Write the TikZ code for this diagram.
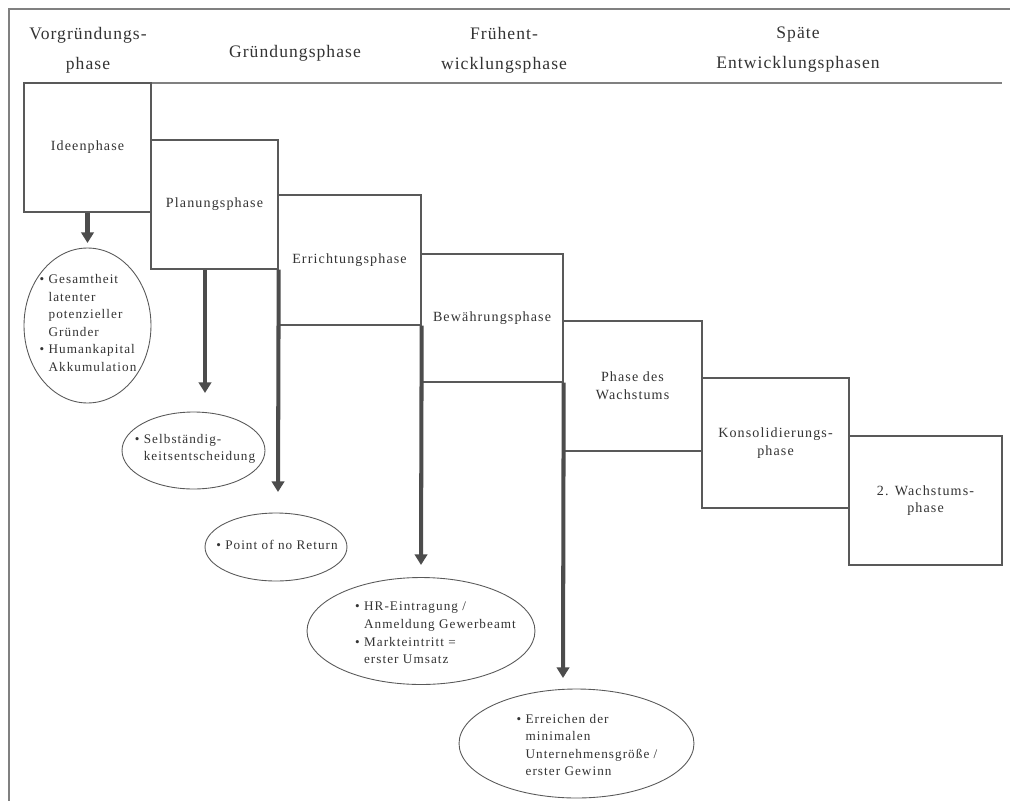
\documentclass[tikz,border=0pt]{standalone}
\usepackage{fontspec}
\setmainfont{Liberation Serif}
\usetikzlibrary{arrows.meta,shapes.geometric}

\definecolor{framegray}{gray}{0.5}
\definecolor{boxgray}{gray}{0.35}
\definecolor{arrowgray}{gray}{0.3}
\definecolor{textgray}{gray}{0.2}
\newcommand{\itm}{\llap{\textbullet\hspace{2.5pt}}}

\begin{document}
\begin{tikzpicture}[x=0.02cm, y=-0.02cm]
  \tikzstyle{head} = [text=textgray, align=center, font={\fontsize{10}{17}\selectfont\addfontfeatures{LetterSpace=6}}]
  \tikzstyle{phase} = [draw=boxgray, line width=0.8pt, rectangle, minimum width=2.54cm, minimum height=2.58cm, text=textgray, align=center, font={\fontsize{8}{10}\selectfont\addfontfeatures{LetterSpace=8}}]
  \tikzstyle{note} = [draw=boxgray, line width=0.5pt, ellipse, inner sep=0pt];
  \tikzstyle{notetext} = [text=textgray, align=left, inner sep=0pt, font={\fontsize{7.5}{10}\selectfont\addfontfeatures{LetterSpace=8}}];
  \tikzstyle{flow} = [draw=arrowgray, line width=2.3pt, -{Triangle[width=7pt,length=6pt]}];

  \useasboundingbox (0,0) rectangle (1010,801);
  \fill[white] (0,0) rectangle (1010,801);

  % frame and header line
  \draw[framegray, line width=1pt] (1010,9) -- (9,9) -- (9,801);
  \draw[framegray, line width=1pt] (24,83) -- (1002,83);

  \node[head] (vorgr) at (88,50) {Vorgründungs-\\phase};
  \node[head] (gruend) at (295,53) {Gründungsphase};
  \node[head] (frueh) at (504,50) {Frühent-\\wicklungsphase};
  \node[head] (spaet) at (798,50) {Späte\\Entwicklungsphasen};

  % phases
  \node[phase] (idee) at (87.5,147.5) {Ideenphase};
  \node[phase] (plan) at (214.5,204.5) {Planungsphase};
  \node[phase, minimum width=2.86cm, minimum height=2.60cm] (erricht) at (349.5,260) {Errichtungsphase};
  \node[phase, minimum width=2.84cm, minimum height=2.56cm] (bewaehr) at (492,318) {Bewährungsphase};
  \node[phase, minimum width=2.78cm, minimum height=2.60cm] (wachs) at (632.5,386) {Phase des\\Wachstums};
  \node[phase, minimum width=2.94cm, minimum height=2.60cm] (konsol) at (775.5,443) {Konsolidierungs-\\phase};
  \node[phase, minimum width=3.06cm] (wachs2) at (925.5,500.5) {2. Wachstums-\\phase};

  % milestones
  \node[note, minimum width=2.54cm, minimum height=3.10cm] (e1) at (87.5,325.5) {};
  \node[notetext] (t1) at (92.5,323) {\itm Gesamtheit\\latenter\\potenzieller\\Gründer\\\itm Humankapital\\Akkumulation};
  \node[note, minimum width=2.86cm, minimum height=1.54cm] (e2) at (193.5,450.5) {};
  \node[notetext] (t2) at (199.5,449) {\itm Selbständig-\\keitsentscheidung};
  \node[note, minimum width=2.84cm, minimum height=1.36cm] (e3) at (276,547) {};
  \node[notetext] (t3) at (281.5,545) {\itm Point of no Return};
  \node[note, minimum width=4.56cm, minimum height=2.14cm] (e4) at (421,631) {};
  \node[notetext] (t4) at (440,633) {\itm HR-Eintragung /\\Anmeldung Gewerbeamt\\\itm Markteintritt =\\erster Umsatz};
  \node[note, minimum width=4.70cm, minimum height=2.18cm] (e5) at (576.5,743.5) {};
  \node[notetext] (t5) at (591.5,745) {\itm Erreichen der\\minimalen\\Unternehmensgröße /\\erster Gewinn};

  \coordinate (tip1) at (87.5,243);
  \coordinate (tip2) at (205,393);
  \coordinate (tip3) at (278,492);
  \coordinate (tip4) at (421,565);
  \coordinate (tip5) at (563,678);

  \draw[flow] (idee.south) -- (tip1);
  \draw[flow] (tip2 |- plan.south) -- (tip2);
  \draw[flow] (plan.south east) -- (tip3);
  \draw[flow] (erricht.south east) -- (tip4);
  \draw[flow] (bewaehr.south east) -- (tip5);
\end{tikzpicture}
\end{document}
